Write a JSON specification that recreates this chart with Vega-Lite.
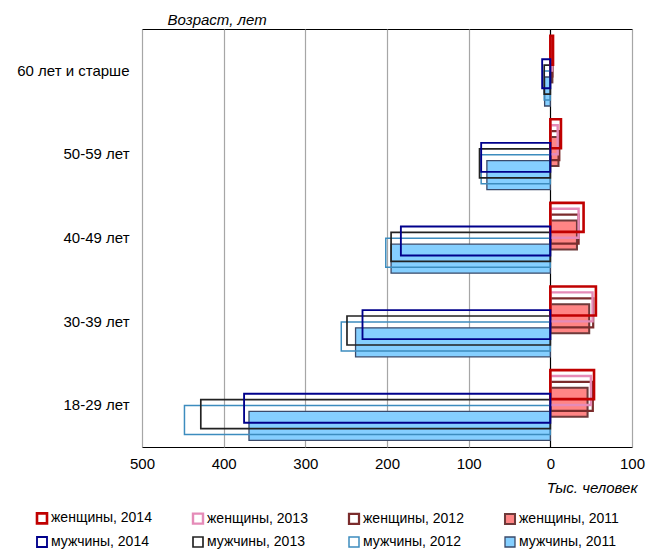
{
  "$schema": "https://vega.github.io/schema/vega-lite/v6.json",
  "autosize": {"type": "none"},
  "padding": {"left": 142, "top": 29, "right": 14, "bottom": 102},
  "width": 490,
  "height": 418,
  "background": "white",
  "config": {
    "font": "Liberation Sans",
    "view": {"stroke": "#000000", "strokeWidth": 1},
    "axis": {"labelFont": "Liberation Sans", "labelFontSize": 14, "labelColor": "#000000", "titleFont": "Liberation Sans", "titleColor": "#000000"},
    "legend": {"labelFont": "Liberation Sans", "labelFontSize": 14, "labelColor": "#000000"}
  },
  "data": {
    "values": [
      {"age": "60 лет и старше", "series": "женщины, 2011", "value": 2.5},
      {"age": "50-59 лет", "series": "женщины, 2011", "value": 10},
      {"age": "40-49 лет", "series": "женщины, 2011", "value": 32.6},
      {"age": "30-39 лет", "series": "женщины, 2011", "value": 47.6},
      {"age": "18-29 лет", "series": "женщины, 2011", "value": 45.6},
      {"age": "60 лет и старше", "series": "мужчины, 2011", "value": -7},
      {"age": "50-59 лет", "series": "мужчины, 2011", "value": -77.7},
      {"age": "40-49 лет", "series": "мужчины, 2011", "value": -195},
      {"age": "30-39 лет", "series": "мужчины, 2011", "value": -238.5},
      {"age": "18-29 лет", "series": "мужчины, 2011", "value": -369},
      {"age": "60 лет и старше", "series": "женщины, 2012", "value": 2.5},
      {"age": "50-59 лет", "series": "женщины, 2012", "value": 11},
      {"age": "40-49 лет", "series": "женщины, 2012", "value": 34.6},
      {"age": "30-39 лет", "series": "женщины, 2012", "value": 52.5},
      {"age": "18-29 лет", "series": "женщины, 2012", "value": 52},
      {"age": "60 лет и старше", "series": "мужчины, 2012", "value": -7.5},
      {"age": "50-59 лет", "series": "мужчины, 2012", "value": -84.7},
      {"age": "40-49 лет", "series": "мужчины, 2012", "value": -201.5},
      {"age": "30-39 лет", "series": "мужчины, 2012", "value": -256},
      {"age": "18-29 лет", "series": "мужчины, 2012", "value": -448},
      {"age": "60 лет и старше", "series": "женщины, 2013", "value": 2},
      {"age": "50-59 лет", "series": "женщины, 2013", "value": 9},
      {"age": "40-49 лет", "series": "женщины, 2013", "value": 34.6},
      {"age": "30-39 лет", "series": "женщины, 2013", "value": 51.7},
      {"age": "18-29 лет", "series": "женщины, 2013", "value": 49.7},
      {"age": "60 лет и старше", "series": "мужчины, 2013", "value": -7.5},
      {"age": "50-59 лет", "series": "мужчины, 2013", "value": -86.7},
      {"age": "40-49 лет", "series": "мужчины, 2013", "value": -195},
      {"age": "30-39 лет", "series": "мужчины, 2013", "value": -249},
      {"age": "18-29 лет", "series": "мужчины, 2013", "value": -428},
      {"age": "60 лет и старше", "series": "женщины, 2014", "value": 3.3},
      {"age": "50-59 лет", "series": "женщины, 2014", "value": 13},
      {"age": "40-49 лет", "series": "женщины, 2014", "value": 40.7},
      {"age": "30-39 лет", "series": "женщины, 2014", "value": 55.8},
      {"age": "18-29 лет", "series": "женщины, 2014", "value": 53.5},
      {"age": "60 лет и старше", "series": "мужчины, 2014", "value": -10},
      {"age": "50-59 лет", "series": "мужчины, 2014", "value": -84.7},
      {"age": "40-49 лет", "series": "мужчины, 2014", "value": -183},
      {"age": "30-39 лет", "series": "мужчины, 2014", "value": -230},
      {"age": "18-29 лет", "series": "мужчины, 2014", "value": -375}
    ]
  },
  "mark": {"type": "bar", "size": 29},
  "encoding": {
    "y": {
      "field": "age",
      "type": "nominal",
      "sort": ["60 лет и старше", "50-59 лет", "40-49 лет", "30-39 лет", "18-29 лет"],
      "scale": {"paddingInner": 0, "paddingOuter": 0},
      "axis": {
        "title": "Возраст, лет",
        "titleAngle": 0,
        "titleX": 25,
        "titleY": -5,
        "titleAlign": "left",
        "titleBaseline": "alphabetic",
        "titleFontSize": 15,
        "titleFontStyle": "italic",
        "titleFontWeight": "normal",
        "domain": false,
        "ticks": false,
        "labelFontSize": 15,
        "labelPadding": 13,
        "labelLimit": 200,
        "grid": false
      }
    },
    "yOffset": {
      "field": "series",
      "type": "nominal",
      "sort": ["женщины, 2014", "женщины, 2013", "женщины, 2012", "женщины, 2011", "мужчины, 2014", "мужчины, 2013", "мужчины, 2012", "мужчины, 2011"],
      "scale": {"type": "point", "padding": 0, "range": [21.2, 62.5]}
    },
    "x": {
      "field": "value",
      "type": "quantitative",
      "stack": null,
      "scale": {"domain": [-500, 100], "nice": false, "zero": false},
      "axis": {
        "values": [-500, -400, -300, -200, -100, 0, 100],
        "labelExpr": "format(abs(datum.value), 'd')",
        "labelFlush": false,
        "labelOverlap": false,
        "labelFontSize": 15,
        "title": "Тыс. человек",
        "titleX": 495,
        "titleY": 45,
        "titleAlign": "right",
        "titleAnchor": null,
        "titleBaseline": "alphabetic",
        "titleFontSize": 15,
        "titleFontStyle": "italic",
        "titleFontWeight": "normal",
        "domain": false,
        "ticks": false,
        "labelPadding": 9,
        "grid": true,
        "gridColor": {"condition": {"test": "datum.value === 0", "value": "#000000"}, "value": "#a6a6a6"},
        "gridWidth": 1.2
      }
    },
    "stroke": {
      "field": "series",
      "type": "nominal",
      "scale": {
        "domain": ["женщины, 2014", "женщины, 2013", "женщины, 2012", "женщины, 2011", "мужчины, 2014", "мужчины, 2013", "мужчины, 2012", "мужчины, 2011"],
        "range": ["#C00000", "#E58BB8", "#7B2C2C", "#6E3A3A", "#00008B", "#222222", "#3C8CBE", "#3A4A6A"]
      },
      "legend": {
        "title": null,
        "orient": "none",
        "legendX": -107,
        "legendY": 482,
        "direction": "horizontal",
        "columns": 4,
        "columnPadding": 36,
        "rowPadding": 4,
        "padding": 0,
        "symbolType": "square",
        "symbolSize": 100,
        "labelOffset": 2
      }
    },
    "fill": {
      "field": "series",
      "type": "nominal",
      "scale": {
        "domain": ["женщины, 2014", "женщины, 2013", "женщины, 2012", "женщины, 2011", "мужчины, 2014", "мужчины, 2013", "мужчины, 2012", "мужчины, 2011"],
        "range": ["transparent", "transparent", "transparent", "#FF8585", "transparent", "transparent", "transparent", "#85CFFF"]
      },
      "legend": {
        "title": null,
        "orient": "none",
        "legendX": -107,
        "legendY": 482,
        "direction": "horizontal",
        "columns": 4,
        "columnPadding": 36,
        "rowPadding": 4,
        "padding": 0,
        "symbolType": "square",
        "symbolSize": 100,
        "labelOffset": 2
      }
    },
    "strokeWidth": {
      "field": "series",
      "type": "nominal",
      "scale": {
        "domain": ["женщины, 2014", "женщины, 2013", "женщины, 2012", "женщины, 2011", "мужчины, 2014", "мужчины, 2013", "мужчины, 2012", "мужчины, 2011"],
        "range": [2.6, 1.3, 1.3, 1, 2.6, 1.3, 1.3, 1]
      },
      "legend": {
        "title": null,
        "orient": "none",
        "legendX": -107,
        "legendY": 482,
        "direction": "horizontal",
        "columns": 4,
        "columnPadding": 36,
        "rowPadding": 4,
        "padding": 0,
        "symbolType": "square",
        "symbolSize": 100,
        "labelOffset": 2
      }
    }
  }
}
